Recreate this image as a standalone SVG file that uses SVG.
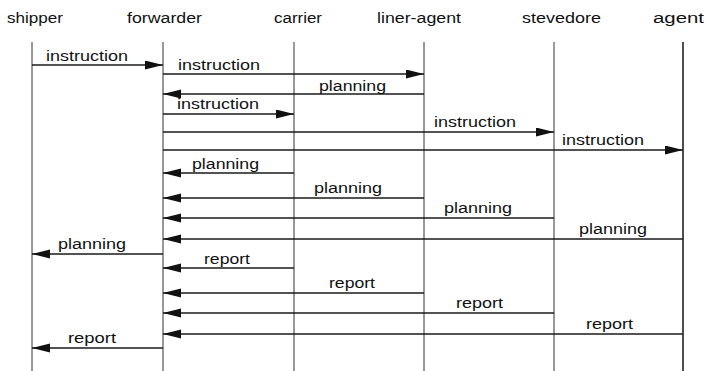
<svg xmlns="http://www.w3.org/2000/svg" width="709" height="371" viewBox="0 0 709 371">
  <defs>
    <marker id="head" markerUnits="userSpaceOnUse" markerWidth="19" markerHeight="10" refX="18" refY="4.5" orient="auto">
      <path d="M0,0 L18,4.5 L0,9 Z" fill="#111"/>
    </marker>
    <style>
      text { font-family: "Liberation Sans", Arial, sans-serif; font-size: 15.5px; fill: #111; }
      .life { stroke: #333; stroke-width: 1; fill: none; }
      .msg { stroke: #1a1a1a; stroke-width: 1.3; fill: none; marker-end: url(#head); }
    </style>
  </defs>

  <!-- participants: name + lifeline -->
  <g id="shipper">
    <text x="7" y="23" textLength="56" lengthAdjust="spacingAndGlyphs">shipper</text>
    <line class="life" x1="32" y1="42" x2="32" y2="371"/>
  </g>
  <g id="forwarder">
    <text x="127" y="23" textLength="75" lengthAdjust="spacingAndGlyphs">forwarder</text>
    <line class="life" x1="163" y1="42" x2="163" y2="371"/>
  </g>
  <g id="carrier">
    <text x="274" y="23" textLength="48" lengthAdjust="spacingAndGlyphs">carrier</text>
    <line class="life" x1="294" y1="42" x2="294" y2="371"/>
  </g>
  <g id="liner-agent">
    <text x="377" y="23" textLength="84" lengthAdjust="spacingAndGlyphs">liner-agent</text>
    <line class="life" x1="424" y1="42" x2="424" y2="371"/>
  </g>
  <g id="stevedore">
    <text x="522" y="23" textLength="79" lengthAdjust="spacingAndGlyphs">stevedore</text>
    <line class="life" x1="554" y1="42" x2="554" y2="371"/>
  </g>
  <g id="agent">
    <text x="653" y="23" textLength="51" lengthAdjust="spacingAndGlyphs">agent</text>
    <line class="life" x1="683" y1="42" x2="683" y2="371" style="stroke-width:1.6;stroke:#222"/>
  </g>

  <!-- messages -->
  <g id="connectors">
    <line class="msg" x1="32" y1="65" x2="163" y2="65"/>
    <line class="msg" x1="163" y1="74" x2="424" y2="74"/>
    <line class="msg" x1="424" y1="94" x2="163" y2="94"/>
    <line class="msg" x1="163" y1="114" x2="294" y2="114"/>
    <line class="msg" x1="163" y1="132" x2="554" y2="132"/>
    <line class="msg" x1="163" y1="150" x2="683" y2="150"/>
    <line class="msg" x1="294" y1="173" x2="163" y2="173"/>
    <line class="msg" x1="424" y1="198" x2="163" y2="198"/>
    <line class="msg" x1="554" y1="218" x2="163" y2="218"/>
    <line class="msg" x1="683" y1="239" x2="163" y2="239"/>
    <line class="msg" x1="163" y1="254" x2="32" y2="254"/>
    <line class="msg" x1="294" y1="268" x2="163" y2="268"/>
    <line class="msg" x1="424" y1="293" x2="163" y2="293"/>
    <line class="msg" x1="554" y1="313" x2="163" y2="313"/>
    <line class="msg" x1="683" y1="334" x2="163" y2="334"/>
    <line class="msg" x1="163" y1="348" x2="32" y2="348"/>
  </g>

  <!-- message labels -->
  <g id="labels">
    <text x="46" y="61" textLength="82" lengthAdjust="spacingAndGlyphs">instruction</text>
    <text x="178" y="70" textLength="82" lengthAdjust="spacingAndGlyphs">instruction</text>
    <text x="319" y="91" textLength="67" lengthAdjust="spacingAndGlyphs">planning</text>
    <text x="177" y="109" textLength="82" lengthAdjust="spacingAndGlyphs">instruction</text>
    <text x="434" y="127" textLength="82" lengthAdjust="spacingAndGlyphs">instruction</text>
    <text x="562" y="145" textLength="82" lengthAdjust="spacingAndGlyphs">instruction</text>
    <text x="192" y="169" textLength="67" lengthAdjust="spacingAndGlyphs">planning</text>
    <text x="314" y="193" textLength="68" lengthAdjust="spacingAndGlyphs">planning</text>
    <text x="444" y="213" textLength="68" lengthAdjust="spacingAndGlyphs">planning</text>
    <text x="579" y="234" textLength="68" lengthAdjust="spacingAndGlyphs">planning</text>
    <text x="58" y="249" textLength="68" lengthAdjust="spacingAndGlyphs">planning</text>
    <text x="204" y="264" textLength="46" lengthAdjust="spacingAndGlyphs">report</text>
    <text x="329" y="288" textLength="46" lengthAdjust="spacingAndGlyphs">report</text>
    <text x="456" y="308" textLength="47" lengthAdjust="spacingAndGlyphs">report</text>
    <text x="586" y="329" textLength="47" lengthAdjust="spacingAndGlyphs">report</text>
    <text x="68" y="343" textLength="48" lengthAdjust="spacingAndGlyphs">report</text>
  </g>
</svg>
